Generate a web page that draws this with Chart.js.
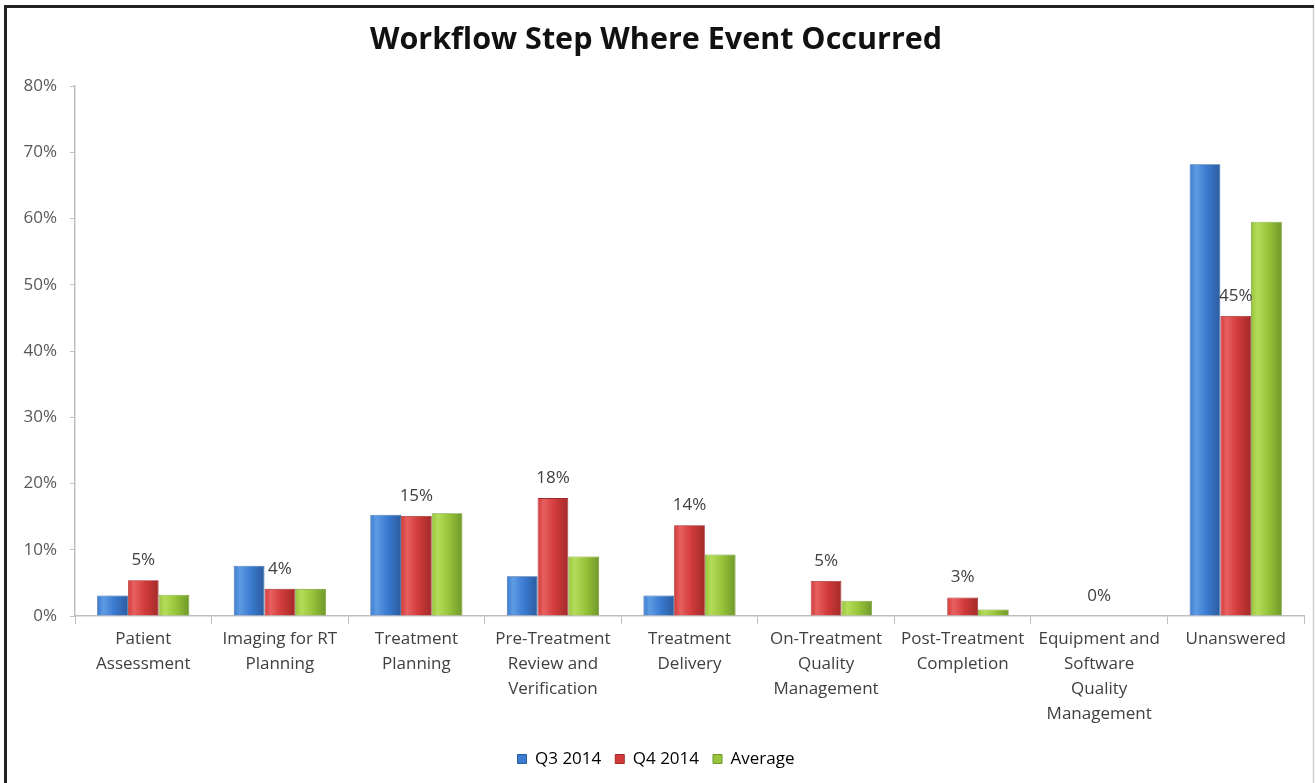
<!DOCTYPE html>
<html>
<head>
<meta charset="utf-8">
<script src="https://cdn.jsdelivr.net/npm/chart.js@4.4.1/dist/chart.umd.min.js"></script>
<style>
  html, body { margin: 0; padding: 0; background: #fff; }
  #wrap { width: 1315px; height: 783px; }
</style>
</head>
<body>
<div id="wrap"><canvas id="chart" width="1315" height="783"></canvas></div>
<script>
const categories = [
    ['Patient', 'Assessment'],
    ['Imaging for RT', 'Planning'],
    ['Treatment', 'Planning'],
    ['Pre-Treatment', 'Review and', 'Verification'],
    ['Treatment', 'Delivery'],
    ['On-Treatment', 'Quality', 'Management'],
    ['Post-Treatment', 'Completion'],
    ['Equipment and', 'Software', 'Quality', 'Management'],
    ['Unanswered'],
];
const seriesNames = ['Q3 2014', 'Q4 2014', 'Average'];
const q3Values = [3.1, 7.6, 15.3, 6.0, 3.1, 0, 0, 0, 68.2];
const q4Values = [5.4, 4.1, 15.1, 17.8, 13.7, 5.3, 2.8, 0, 45.3];
const avgValues = [3.2, 4.1, 15.5, 9.0, 9.3, 2.3, 1.0, 0, 59.5];
const yTicks = [0, 10, 20, 30, 40, 50, 60, 70, 80];

const CAT_PCT = 0.675;

// light / base / dark shades for the bevelled bar look
const palettes = [
    { light: '#5f9be3', base: '#3b7bd0', dark: '#2b5c9f' },
    { light: '#e86060', base: '#d23b3b', dark: '#a22a2a' },
    { light: '#b4dc5a', base: '#98c53a', dark: '#6f982a' },
];

function barFill(ctx) {
    const pal = palettes[ctx.datasetIndex];
    const chart = ctx.chart;
    const xs = chart.scales && chart.scales.x;
    if (!chart.chartArea || !xs || ctx.dataIndex === undefined) return pal.base;
    const catW = chart.chartArea.width / categories.length;
    const barW = catW * CAT_PCT / 3;
    const cx = xs.getPixelForValue(ctx.dataIndex) + (ctx.datasetIndex - 1) * barW;
    const left = cx - barW / 2;
    const g = chart.ctx.createLinearGradient(left, 0, left + barW, 0);
    g.addColorStop(0, pal.base);
    g.addColorStop(0.2, pal.light);
    g.addColorStop(0.55, pal.base);
    g.addColorStop(1, pal.dark);
    return g;
}

const frame = {
    id: 'frame',
    beforeDraw(chart) {
        const c = chart.ctx;
        c.save();
        c.fillStyle = '#fff';
        c.fillRect(0, 0, chart.width, chart.height);
        c.strokeStyle = '#d0d0d0';
        c.lineWidth = 1.5;
        c.beginPath();
        c.moveTo(1313.5, 7);
        c.lineTo(1313.5, chart.height);
        c.stroke();
        c.strokeStyle = '#222';
        c.lineWidth = 3;
        c.beginPath();
        c.moveTo(5.5, chart.height);
        c.lineTo(5.5, 6.5);
        c.lineTo(1314, 6.5);
        c.stroke();
        c.restore();
    }
};

// Q4 values shown above its bars
const q4Labels = {
    id: 'q4Labels',
    afterDatasetsDraw(chart) {
        const meta = chart.getDatasetMeta(1);
        const c = chart.ctx;
        c.save();
        c.font = '17px "Open Sans"';
        c.fillStyle = '#404040';
        c.textAlign = 'center';
        c.textBaseline = 'middle';
        meta.data.forEach((el, i) => {
            c.fillText(Math.round(q4Values[i]) + '%', el.x, el.y - 20);
        });
        c.restore();
    }
};

Chart.defaults.font.family = '"Open Sans", sans-serif';
Chart.defaults.color = '#404040';

const datasets = [q3Values, q4Values, avgValues].map((vals, i) => ({
    label: seriesNames[i],
    data: vals,
    backgroundColor: barFill,
    borderColor: palettes[i].dark,
    borderWidth: 0.8,
    categoryPercentage: CAT_PCT,
    barPercentage: 1.0,
}));

new Chart(document.getElementById('chart'), {
    type: 'bar',
    data: { labels: categories, datasets: datasets },
    plugins: [frame, q4Labels],
    options: {
        responsive: false,
        animation: false,
        layout: { padding: { left: 8, right: 11, top: 10, bottom: 5.5 } },
        plugins: {
            title: {
                display: true,
                text: 'Workflow Step Where Event Occurred',
                color: '#111',
                font: { size: 30.5, weight: 'bold' },
                padding: { top: 11.7, bottom: 27.7 },
            },
            legend: {
                position: 'bottom',
                labels: {
                    boxWidth: 9,
                    boxHeight: 9,
                    padding: 14,
                    font: { size: 17 },
                    color: '#404040',
                    generateLabels(chart) {
                        return seriesNames.map((n, i) => ({
                            text: n,
                            fillStyle: palettes[i].base,
                            strokeStyle: palettes[i].dark,
                            lineWidth: 1,
                            datasetIndex: i,
                        }));
                    },
                },
            },
            tooltip: { enabled: false },
        },
        scales: {
            x: {
                grid: {
                    display: true,
                    drawOnChartArea: false,
                    offset: true,
                    tickLength: 8,
                    color: '#bfbfbf',
                },
                border: { color: '#bfbfbf', width: 1.5 },
                ticks: {
                    maxRotation: 0,
                    autoSkip: false,
                    padding: 3,
                    color: '#404040',
                    font: { size: 17, lineHeight: 1.47 },
                },
                afterFit(scale) { scale.height = 120.5; },
            },
            y: {
                min: 0,
                max: 80,
                afterBuildTicks(scale) { scale.ticks = yTicks.map(v => ({ value: v })); },
                grid: {
                    display: true,
                    drawOnChartArea: false,
                    tickLength: 5,
                    color: '#bfbfbf',
                },
                border: { color: '#bfbfbf', width: 1.5 },
                ticks: {
                    padding: 13,
                    color: '#595959',
                    font: { size: 17 },
                    callback: v => v + '%',
                },
                afterFit(scale) { scale.width = 67; },
            },
        },
    },
});
</script>
</body>
</html>
